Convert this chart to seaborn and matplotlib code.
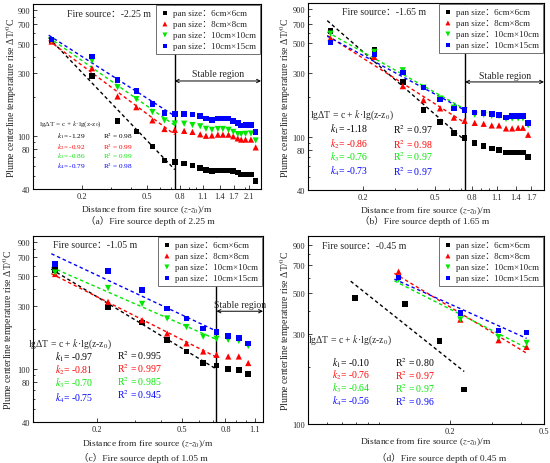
import numpy as np
import matplotlib
matplotlib.use("Agg")
import matplotlib.pyplot as plt
import seaborn as sns

# ---- data (x = z-z0 in m, y = temperature rise in C) ----
x_a = [0.13, 0.23, 0.33, 0.43, 0.54, 0.64, 0.74, 0.845, 0.95, 1.06, 1.15, 1.25,
       1.36, 1.46, 1.58, 1.69, 1.8, 1.89, 2.01, 2.17, 2.32]
a_6x6 = [535, 286, 130, 109, 84, 65.6, 64, 62.2, 60.1, 57.7, 55.7, 54.8, 55.4,
         55.4, 55.4, 54.5, 53.5, 51.4, 51.4, 51.4, 46.1]
a_8x8 = [520, 327, 200, 166, 132, 113.6, 112, 110, 108, 103.5, 101, 101.5, 103,
         103, 103, 100, 96.5, 94.5, 94.5, 94.5, 82.5]
a_10x10 = [525, 372, 235, 191, 152.5, 132, 125, 124.6, 121.7, 119, 114, 112,
           113.6, 113.6, 112, 108, 104, 104, 104.5, 105, 93]
a_10x15 = [541, 401, 267, 221, 175, 150, 147, 147, 146.5, 143, 136, 133.5, 136,
           136, 136, 130.5, 126, 121, 121.5, 122, 108]

x_b = [0.133, 0.232, 0.333, 0.433, 0.535, 0.637, 0.73, 0.83, 0.93, 1.03, 1.13,
       1.235, 1.335, 1.44, 1.53, 1.635]
b_6x6 = [618, 448, 257, 158, 129, 107, 98, 89.7, 85.7, 81.8, 79.5, 76, 76, 76, 76, 70.5]
b_8x8 = [545, 395, 239, 188, 163, 139, 131.6, 127, 125, 121.5, 121.5, 115.4,
         115.4, 116.7, 116.7, 103.5]
b_10x10 = [590, 431, 314, 233, 193, 165, 158, 146, 146, 143, 143, 136, 137, 137, 137, 122]
b_10x15 = [506, 411, 302, 233, 190, 163, 158, 152, 151, 147.6, 145, 139.4,
           142.6, 142.6, 143.5, 127]

x_c = [0.127, 0.225, 0.325, 0.426, 0.525, 0.629, 0.726, 0.824, 0.924, 1.023]
c_6x6 = [557, 292, 223, 166, 135.5, 111, 106, 100, 98.3, 91.8]
c_8x8 = [518, 320, 233, 185, 156, 135.5, 128, 124.3, 124.3, 111]
c_10x10 = [532, 407, 309, 240, 207, 175, 169, 165.6, 162.7, 149]
c_10x15 = [615, 548, 391, 285, 239, 201, 190, 177, 171, 155.5]

x_d_small = [0.079, 0.129, 0.180, 0.2295]
x_d = [0.121, 0.221, 0.321, 0.422]
d_6x6 = [467, 436, 276.5, 153]
d_8x8 = [646, 359, 279, 257]
d_10x10 = [586, 360, 290, 270]
d_10x15 = [600, 389, 315, 306]

fire_sources = ["-2.25 m", "-1.65 m", "-1.05 m", "-0.45 m"]
depths = ["2.25", "1.65", "1.05", "0.45"]
panel_letters = ["a", "b", "c", "d"]
k_values = [["-1.29", "-0.92", "-0.86", "-0.79"],
            ["-1.18", "-0.86", "-0.76", "-0.73"],
            ["-0.97", "-0.81", "-0.70", "-0.75"],
            ["-0.10", "-0.76", "-0.64", "-0.56"]]
r2_values = [["0.98", "0.99", "0.99", "0.98"],
             ["0.97", "0.98", "0.97", "0.97"],
             ["0.995", "0.997", "0.985", "0.945"],
             ["0.80", "0.97", "0.97", "0.96"]]
pan_labels = ["pan size：6cm×6cm", "pan size：8cm×8cm",
              "pan size：10cm×10cm", "pan size：10cm×15cm"]

COLORS = ["black", "red", "#00e800", "blue"]
MARKERS = ["s", "^", "v", "s"]

sns.set_style("ticks")
plt.rcParams["font.family"] = ["Liberation Serif", "Noto Sans CJK SC"]
plt.rcParams["mathtext.fontset"] = "stix"

fig = plt.figure(figsize=(5.5, 4.64), dpi=100)

# axes boxes in pixels: left, top, right, bottom
boxes = [(33, 5, 261, 190), (308, 4, 544, 191), (33, 237, 263, 423), (308, 237, 544, 425)]
axes = []
for l, t, r, b in boxes:
    axes.append(fig.add_axes([l / 550, 1 - b / 464, (r - l) / 550, (b - t) / 464]))

panels = [
    dict(xs=[x_a] * 4, ys=[a_6x6, a_8x8, a_10x10, a_10x15], xlim=(0.1, 2.5), ylim=(40, 1000),
         xticks=[0.2, 0.5, 0.8, 1.1, 1.4, 1.7, 2.1], yticks=[40, 80, 100, 300, 500, 700, 900],
         brk=0.74, arrow_y=262, text_y=298, fire_xy=(0.149, 0.951), stated_k=True,
         eq_xy=(0.026, 0.355), kx=0.105, rx=0.307, rows=[0.29, 0.234, 0.182, 0.128],
         rrows=[0.29, 0.234, 0.182, 0.128], fs=5.2, ylx=-0.096),
    dict(xs=[x_b] * 4, ys=[b_6x6, b_8x8, b_10x10, b_10x15], xlim=(0.1, 2.0), ylim=(40, 1000),
         xticks=[0.2, 0.5, 0.8, 1.1, 1.4, 1.7], yticks=[40, 80, 100, 300, 500, 700, 900],
         brk=0.735, arrow_y=257, text_y=286, fire_xy=(0.144, 0.957), stated_k=True,
         eq_xy=(0.008, 0.405), kx=0.093, rx=0.362, rows=[0.33, 0.251, 0.183, 0.103],
         rrows=[0.33, 0.251, 0.183, 0.103], fs=7, ylx=-0.097),
    dict(xs=[x_c] * 4, ys=[c_6x6, c_8x8, c_10x10, c_10x15], xlim=(0.1, 1.2), ylim=(40, 1000),
         xticks=[0.2, 0.5, 0.8, 1.1], yticks=[40, 80, 100, 300, 500, 700, 900],
         brk=0.726, arrow_y=272, text_y=308, fire_xy=(0.087, 0.957), stated_k=True,
         eq_xy=(-0.02, 0.425), kx=0.096, rx=0.367, rows=[0.352, 0.284, 0.214, 0.131],
         rrows=[0.364, 0.292, 0.222, 0.152], fs=7, ylx=-0.107),
    dict(xs=[x_d_small, x_d, x_d, x_d], ys=[d_6x6, d_8x8, d_10x10, d_10x15], xlim=(0.05, 0.5),
         ylim=(100, 1000), xticks=[0.2, 0.5], yticks=[100, 300, 500, 700, 900],
         brk=None, fire_xy=(0.059, 0.952), stated_k=False,
         eq_xy=(0.0, 0.45), kx=0.10, rx=0.369, rows=[0.331, 0.264, 0.193, 0.126],
         rrows=[0.331, 0.264, 0.193, 0.126], fs=7, ylx=-0.097),
]

caption_xy = [(150, 221), (425, 221), (143, 458), (442, 458)]
xlabel_y = [-0.078, -0.078, -0.085, -0.062]

for i, (ax, p) in enumerate(zip(axes, panels)):
    ax.set_xscale("log")
    ax.set_yscale("log")
    for j in range(4):
        x = np.array(p["xs"][j])
        y = np.array(p["ys"][j])
        sns.scatterplot(x=x, y=y, ax=ax, color=COLORS[j], marker=MARKERS[j],
                        s=16 if MARKERS[j] == "s" else 20, edgecolor="none",
                        linewidth=0, label=pan_labels[j], zorder=3)
        # power-law fit lgT = c + k lg(z-z0) over the plume region
        m = x <= p["brk"] if p["brk"] else np.ones_like(x, dtype=bool)
        lx, ly = np.log10(x[m]), np.log10(y[m])
        if p["stated_k"]:
            k = float(k_values[i][j])
            c = np.mean(ly - k * lx)
        else:
            k, c = np.polyfit(lx, ly, 1)
        xf = np.geomspace(x[m].min() * 0.96, x[m].max(), 20)
        ax.plot(xf, 10 ** (c + k * np.log10(xf)), ls=(0, (2.5, 2)), lw=1,
                color=COLORS[j], zorder=2)

    ax.set_xlim(*p["xlim"])
    ax.set_ylim(*p["ylim"])
    ax.set_xticks(p["xticks"], [f"{t:g}" for t in p["xticks"]])
    ax.set_yticks(p["yticks"], [str(t) for t in p["yticks"]])
    ax.xaxis.set_minor_locator(matplotlib.ticker.LogLocator(subs=np.arange(1.0, 10.0)))
    ax.xaxis.set_minor_formatter(matplotlib.ticker.NullFormatter())
    ax.yaxis.set_minor_locator(matplotlib.ticker.LogLocator(subs=np.arange(1.0, 10.0)))
    ax.yaxis.set_minor_formatter(matplotlib.ticker.NullFormatter())
    ax.tick_params(which="both", direction="in", labelsize=6, pad=2, width=0.6)
    ax.tick_params(which="major", length=3)
    ax.tick_params(which="minor", length=1.5)
    for s in ax.spines.values():
        s.set_linewidth(0.8)
        s.set_color("black")

    ax.set_xlabel("Distance from fire source ($z$-$z_0$)/m", fontsize=6.8)
    ax.xaxis.set_label_coords(0.5, xlabel_y[i])
    ax.set_ylabel("Plume centerline temperature rise ΔT/$^0$C", fontsize=7)
    ax.yaxis.label.set(ha="center", va="center")
    ax.yaxis.set_label_coords(p["ylx"], 0.5)

    if p["brk"]:
        ax.axvline(p["brk"], color="black", lw=1, zorder=1)
        ax.annotate("", xy=(p["xlim"][1], p["arrow_y"]), xytext=(p["brk"], p["arrow_y"]),
                    arrowprops=dict(arrowstyle="<->", color="black", lw=0.7,
                                    shrinkA=0, shrinkB=0, mutation_scale=6))
        ax.text(np.sqrt(p["brk"] * p["xlim"][1]), p["text_y"], "Stable region",
                ha="center", va="center", fontsize=7)

    ax.text(*p["fire_xy"], "Fire source：" + fire_sources[i], transform=ax.transAxes,
            ha="left", va="center", fontsize=7)

    fs = p["fs"]
    ax.text(*p["eq_xy"], "lgΔT = c + $k$·lg(z-z$_0$)", transform=ax.transAxes,
            ha="left", va="center", fontsize=fs, clip_on=False)
    for j in range(4):
        ax.text(p["kx"], p["rows"][j], f"$k_{j + 1}$= {k_values[i][j]}", color=COLORS[j],
                transform=ax.transAxes, ha="left", va="center", fontsize=fs)
        ax.text(p["rx"], p["rrows"][j], f"R$^2$ = {r2_values[i][j]}", color=COLORS[j],
                transform=ax.transAxes, ha="left", va="center", fontsize=fs)

    leg = ax.legend(loc="upper right", fontsize=6.5, frameon=True, fancybox=False,
                    edgecolor="0.35", framealpha=1, handletextpad=0.3, handlelength=1.2,
                    labelspacing=0.3, borderaxespad=0.15, borderpad=0.4, markerscale=0.8)
    leg.get_frame().set_linewidth(0.6)

    cx, cy = caption_xy[i]
    fig.text(cx / 550, 1 - cy / 464,
             f"（{panel_letters[i]}）Fire source depth of {depths[i]} m",
             ha="center", va="center", fontsize=6.8)

fig.savefig("out.png", dpi=100)
plt.close(fig)
